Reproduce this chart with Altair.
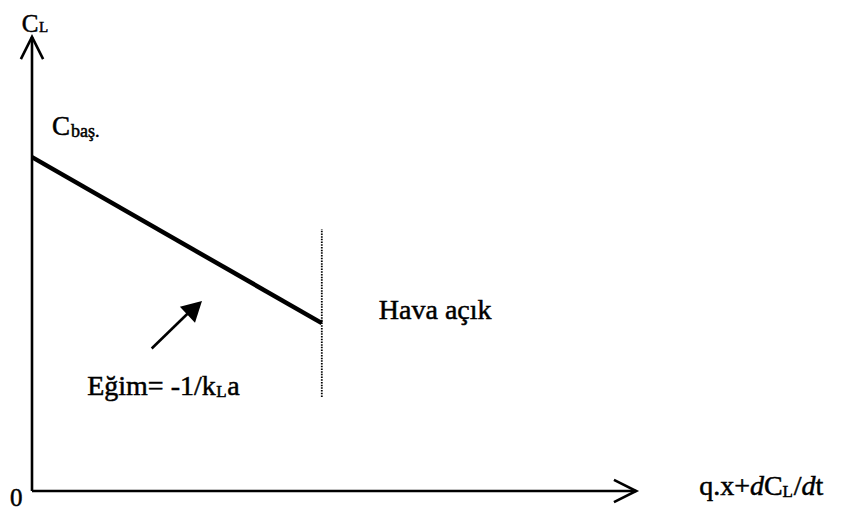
import math
import altair as alt
import pandas as pd

# ---- schematic values (data units) ----
c_initial = 7.42          # C_baş. : concentration at the start (y intercept)
x_air_on = 4.83           # abscissa where aeration is switched on
c_air_on = 3.73           # C_L at that point
air_on_span = [2.09, 5.82]  # extent of the dotted "Hava açık" marker
x_axis_end = 10.07
y_axis_end = 10.09
slope_arrow_from = [1.995, 3.167]
slope_arrow_to = [2.833, 4.222]

# ---- labels: (text, x, y, font size) ----
normal_labels = [
    ("C", -0.17, 10.2, 25), ("L", 0.115, 10.2, 15),
    ("C", 0.333, 7.911, 27), ("baş.", 0.65, 7.867, 18),
    ("Hava açık", 5.78, 3.816, 28),
    ("Eğim= -1/k", 0.92, 2.133, 28), ("L", 3.07, 2.089, 17), ("a", 3.255, 2.133, 28),
    ("0", -0.367, -0.33, 25),
    ("q.x+", 11.12, -0.089, 28), ("C", 12.2, -0.089, 28), ("L", 12.51, -0.133, 17),
    ("/", 12.695, -0.089, 28), ("t", 13.058, -0.089, 28),
]
italic_labels = [("d", 11.967, -0.089, 28), ("d", 12.825, -0.089, 28)]

W, H = 827, 499
XDOM = [-0.4, 13.3833]
YDOM = [-0.3556, 10.7333]
px_x = W / (XDOM[1] - XDOM[0])
px_y = H / (YDOM[1] - YDOM[0])

FONT = "Liberation Serif"
xs = alt.Scale(domain=XDOM, nice=False, zero=False)
ys = alt.Scale(domain=YDOM, nice=False, zero=False)


def seg_layer(rows, **mark):
    df = pd.DataFrame(rows, columns=["x", "y", "x2", "y2"])
    return alt.Chart(df).mark_rule(color="black", **mark).encode(
        x=alt.X("x:Q", scale=xs, axis=None),
        y=alt.Y("y:Q", scale=ys, axis=None),
        x2="x2:Q", y2="y2:Q",
    )


axes = seg_layer([[0, 0, x_axis_end, 0], [0, 0, 0, y_axis_end]], strokeWidth=2.6)
main_line = seg_layer([[0, c_initial, x_air_on, c_air_on]], strokeWidth=4.5)
dotted = seg_layer([[x_air_on, air_on_span[0], x_air_on, air_on_span[1]]],
                   strokeWidth=1.8, strokeDash=[1.5, 1.2])
shaft = seg_layer([[slope_arrow_from[0], slope_arrow_from[1],
                    slope_arrow_to[0] - 0.1, slope_arrow_to[1] - 0.1]], strokeWidth=2.6)

ang = math.degrees(math.atan2((slope_arrow_to[0] - slope_arrow_from[0]) * px_x,
                              (slope_arrow_to[1] - slope_arrow_from[1]) * px_y))

heads_open = pd.DataFrame({"x": [0, x_axis_end], "y": [y_axis_end, 0], "a": [0, 90]})
chev = alt.Chart(heads_open).mark_point(
    shape="M-0.5,1L0,0L0.5,1", filled=False, color="black", strokeWidth=2.6,
    size=1980, opacity=1,
).encode(
    x=alt.X("x:Q", scale=xs, axis=None),
    y=alt.Y("y:Q", scale=ys, axis=None),
    angle=alt.Angle("a:Q", scale=None),
)

head_fill = pd.DataFrame({"x": [slope_arrow_to[0]], "y": [slope_arrow_to[1]]})
tri = alt.Chart(head_fill).mark_point(
    shape="M0,0L-0.55,1L0.55,1Z", filled=True, color="black", size=1600,
    opacity=1, angle=ang,
).encode(
    x=alt.X("x:Q", scale=xs, axis=None),
    y=alt.Y("y:Q", scale=ys, axis=None),
)


def text_layer(rows, **mark):
    df = pd.DataFrame(rows, columns=["t", "x", "y", "s"])
    return alt.Chart(df).mark_text(
        font=FONT, color="black", align="left", baseline="alphabetic",
        stroke="black", strokeWidth=0.5, **mark
    ).encode(
        x=alt.X("x:Q", scale=xs, axis=None),
        y=alt.Y("y:Q", scale=ys, axis=None),
        text="t:N",
        size=alt.Size("s:Q", scale=None),
    )


txt = text_layer(normal_labels)
txt_it = text_layer(italic_labels, fontStyle="italic")

chart = alt.layer(axes, main_line, dotted, shaft, chev, tri, txt, txt_it).properties(
    width=W, height=H, padding=0, background="white"
).configure_view(stroke=None)

chart.save("out.html", embed_options={"renderer": "svg", "actions": False})
